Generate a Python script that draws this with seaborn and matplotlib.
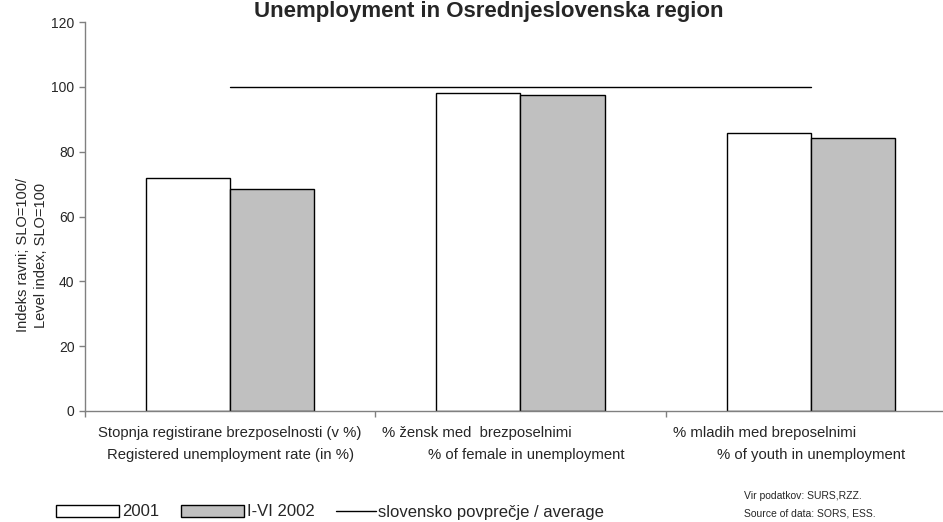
import matplotlib
matplotlib.use("Agg")

import matplotlib.pyplot as plt
import matplotlib.transforms as mtransforms
from matplotlib.patches import Patch
from matplotlib.lines import Line2D
import pandas as pd
import seaborn as sns

categories = ["reg", "female", "youth"]
labels_si = ["Stopnja registirane brezposelnosti (v %)",
             "% žensk med  brezposelnimi",
             "% mladih med breposelnimi"]
labels_en = ["Registered unemployment rate (in %)",
             "% of female in unemployment",
             "% of youth in unemployment"]
values_2001 = [72.0, 98.0, 85.7]
values_2002 = [68.4, 97.5, 84.3]
average = [100, 100, 100]
series = ["2001", "I-VI 2002"]
avg_label = "slovensko povprečje / average"

df = pd.DataFrame({
    "category": categories * 2,
    "series": [series[0]] * 3 + [series[1]] * 3,
    "value": values_2001 + values_2002,
})

sns.set_style("white")
plt.rcParams["font.family"] = ["Liberation Sans", "DejaVu Sans"]

fig = plt.figure(figsize=(9.43, 5.22), dpi=100)
ax = fig.add_axes([85 / 943, 1 - 411 / 522, (956 - 85) / 943, (411 - 22) / 522])

sns.barplot(data=df, x="category", y="value", hue="series", order=categories,
            palette=["white", "#C0C0C0"], edgecolor="black", linewidth=1,
            width=0.58, gap=0, legend=False, ax=ax)
ax.plot(range(len(categories)), average, color="black", linewidth=1)

ax.set_xlim(-0.5, 2.5)
ax.set_ylim(0, 120)
ax.set_yticks(range(0, 121, 20))
ax.set_xticks([-0.5, 0.5, 1.5, 2.5])
ax.set_xticklabels([])
ax.set_xlabel("")
ax.set_ylabel("")
ax.tick_params(axis="both", direction="out", length=4, width=1, color="#808080",
               labelsize=10, bottom=True, left=True)
for side in ["top", "right"]:
    ax.spines[side].set_visible(False)
for side in ["left", "bottom"]:
    ax.spines[side].set_color("#808080")
    ax.spines[side].set_linewidth(1)

# category labels, two lines each, offset like the original wrapping
trans = mtransforms.blended_transform_factory(ax.transData, fig.transFigure)
offsets_si = [0.0, -0.15, -0.16]
offsets_en = [0.0, 0.02, 0.0]
for i in range(len(categories)):
    ax.text(i + offsets_si[i], 1 - 433 / 522, labels_si[i], transform=trans,
            ha="center", va="center", fontsize=10.7)
    ax.text(i + offsets_en[i], 1 - 455 / 522, labels_en[i], transform=trans,
            ha="center", va="center", fontsize=10.7)

fig.text(489 / 943, 1 - 11 / 522, "Unemployment in Osrednjeslovenska region",
         ha="center", va="center", fontsize=16, fontweight="bold")
fig.text(32 / 943, 1 - 255 / 522, "Indeks ravni; SLO=100/\nLevel index, SLO=100",
         rotation=90, ha="center", va="center", fontsize=10.5, linespacing=1.4)

# legend items placed one by one, as in the original
legend_items = [
    (Patch(facecolor="white", edgecolor="black", linewidth=1), series[0], 56, 3.8),
    (Patch(facecolor="#C0C0C0", edgecolor="black", linewidth=1), series[1], 181, 3.8),
    (Line2D([], [], color="black", linewidth=1), avg_label, 336, 2.4),
]
for handle, text, x0, hl in legend_items:
    fig.legend([handle], [text], loc="center left",
               bbox_to_anchor=(x0 / 943, 1 - 512 / 522), frameon=False,
               fontsize=12, handlelength=hl, handleheight=0.72,
               handletextpad=0.15, borderpad=0, borderaxespad=0)

fig.text(744 / 943, 1 - 496 / 522, "Vir podatkov: SURS,RZZ.", fontsize=7.5,
         ha="left", va="center")
fig.text(744 / 943, 1 - 514 / 522, "Source of data: SORS, ESS.", fontsize=7.5,
         ha="left", va="center")

fig.savefig("out.png", dpi=100)
